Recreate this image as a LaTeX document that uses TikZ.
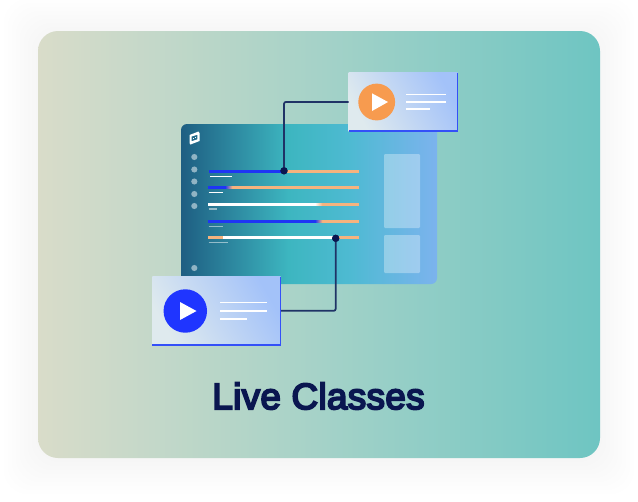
\documentclass[tikz,border=0pt]{standalone}
\usepackage{fontspec}
\setmainfont{Liberation Sans}
\newfontfamily\titlefont[FakeBold=5,LetterSpace=1.0]{Liberation Sans}
\usetikzlibrary{calc}
\definecolor{navy}{HTML}{0A1650}
\definecolor{wire}{HTML}{1F3366}
\definecolor{barblue}{HTML}{1E35F5}
\definecolor{barorange}{HTML}{F5B37E}
\definecolor{edgeblue}{HTML}{3450F8}
\definecolor{playorange}{HTML}{F79B4F}
\definecolor{playblue}{HTML}{1F35FF}
\definecolor{cardpale}{HTML}{DFEAEE}
\definecolor{cardblue}{HTML}{A3C2F9}
\definecolor{bga}{HTML}{D9DCC9}
\definecolor{bgb}{HTML}{A5D2C8}
\definecolor{bgc}{HTML}{6EC5C2}
\definecolor{pa}{HTML}{1E5E82}
\definecolor{pb}{HTML}{3DB6C0}
\definecolor{pc}{HTML}{4EBAD2}
\definecolor{pd}{HTML}{7CB3EE}
\pgfdeclarehorizontalshading{bgsh}{100bp}{
 color(0bp)=(bga);
 color(25bp)=(bga);
 color(50bp)=(bgb);
 color(75bp)=(bgc);
 color(100bp)=(bgc)}
\pgfdeclarehorizontalshading{panelsh}{100bp}{
 color(0bp)=(pa);
 color(25bp)=(pa);
 color(46bp)=(pb);
 color(58bp)=(pc);
 color(75bp)=(pd);
 color(100bp)=(pd)}
\newcommand{\blendbar}[4]{% x start, y, from colour, to colour : 8 px blend
  \foreach \k in {0,...,7}{
    \pgfmathtruncatemacro{\p}{100-\k*14}
    \draw[bar,color=#3!\p!#4] ({#1+\k},#2) -- ({#1+\k+1.1},#2);
  }}
\tikzset{
 x=0.75pt,y=-0.75pt,
 bgcard/.style={rounded corners=15pt,shade,shading=bgsh},
 panelbox/.style={rounded corners=4.5pt,shade,shading=panelsh},
 sidebox/.style={fill=white,fill opacity=.32,rounded corners=.8pt},
 navdot/.style={circle,fill=white,fill opacity=.5,minimum size=4.6pt,inner sep=0pt,outer sep=0pt},
 bar/.style={line width=2.25pt},
 sub/.style={line width=.9pt,draw=white},
 subdim/.style={line width=1.1pt,draw=white,draw opacity=.5},
 inner line/.style={draw=white,line width=1.1pt},
 cardA/.style={rectangle,inner sep=0pt,outer sep=0pt,minimum width=81.9pt,minimum height=43.8pt,anchor=north west,
   bottom color=cardpale,top color=cardblue,shading angle=-60},
 cardB/.style={rectangle,inner sep=0pt,outer sep=0pt,minimum width=96.3pt,minimum height=51.2pt,anchor=north west,
   bottom color=cardpale,top color=cardblue,shading angle=-60},
 cardedge/.style={draw=edgeblue,line width=1pt},
 wirepath/.style={draw=wire,line width=1.3pt,rounded corners=1.5pt},
 junction/.style={circle,fill=navy,minimum size=5.4pt,inner sep=0pt,outer sep=0pt},
 playA/.style={circle,fill=playorange,minimum size=27.6pt,inner sep=0pt,outer sep=0pt},
 playB/.style={circle,fill=playblue,minimum size=32.6pt,inner sep=0pt,outer sep=0pt},
 title/.style={text=navy,font=\fontsize{27.6pt}{30pt}\selectfont\titlefont,inner sep=0pt}
}
\begin{document}
\begin{tikzpicture}
\useasboundingbox (0,0) rectangle (638,501);
\fill[white] (0,0) rectangle (638,501);
% soft shadow
\foreach \e in {2,6,...,34}{
  \fill[color=black!40!blue!30!white,opacity=.007,rounded corners=18pt] (38-\e,33-\e) rectangle (600+\e,460+\e);
}
\path[bgcard] (38,31) rectangle (600,458);
% panel
\path[panelbox] (181,124) rectangle (437,284);
\fill[sidebox] (384,154) rectangle (420,228);
\fill[sidebox] (384,235) rectangle (420,273);
% logo
\begin{scope}[shift={(194.5,138)}]
\fill[white,even odd rule] (-5,-3)--(4,-6.5)--(5,-5)--(5,3)--(-4,6.5)--(-5,5)--cycle
  (-2.8,-1.6)--(-2.8,3.2)--(2.8,1.4)--(2.8,-3.2)--cycle;
\fill[white] (-1.1,-.5) rectangle (-.3,.6);
\fill[white] (.4,-1) rectangle (1.2,.1);
\end{scope}
% nav dots
\foreach \n/\y in {a/157,b/169.5,c/181.5,d/194,e/206,f/268}{
  \node[navdot] (nav\n) at (194.3,\y) {};
}
% bars
\draw[bar,barorange] (284,171.5) -- (359,171.5);
\draw[bar,barblue] (209,171.5) -- (284,171.5);
\draw[sub] (210,176.5) -- (232,176.5);
\draw[bar,barorange] (233,187.5) -- (359,187.5);
\draw[bar,barblue] (208,187.5) -- (226,187.5);
\blendbar{225}{187.5}{barblue}{barorange}
\draw[sub] (208.5,192.3) -- (223,192.3);
\draw[bar,barorange] (323,204.5) -- (359,204.5);
\draw[bar,white] (208,204.5) -- (316,204.5);
\blendbar{315}{204.5}{white}{barorange}
\draw[subdim] (208.5,209) -- (217,209);
\draw[bar,barorange] (323,221.5) -- (359,221.5);
\draw[bar,barblue] (208,221.5) -- (316,221.5);
\blendbar{315}{221.5}{barblue}{barorange}
\draw[subdim] (208.5,226.5) -- (223,226.5);
\draw[bar,barorange] (208,237.5) -- (359,237.5);
\draw[bar,white] (223,237.5) -- (335,237.5);
\draw[subdim] (208.5,242.5) -- (228,242.5);
% junctions and cards
\node[junction] (dotA) at (284,170.8) {};
\node[junction] (dotB) at (335.7,238.3) {};
\node[cardA] (cardA) at (348.5,72.7) {};
\node[cardB] (cardB) at (152.3,276.7) {};
\draw[wirepath] (cardA.west) -| (dotA.center);
\draw[wirepath] (cardB.east) -| (dotB.center);
\node[junction] at (dotA) {};
\node[junction] at (dotB) {};
\draw[cardedge] (cardA.south west) -- (cardA.south east) -- (cardA.north east);
\draw[cardedge] (cardB.south west) -- (cardB.south east) -- (cardB.north east);
% play A
\node[playA] (btnA) at (376.7,102) {};
\fill[white] ($(btnA)+(-4.7,-8.7)$) -- ($(btnA)+(11.3,0)$) -- ($(btnA)+(-4.7,9)$) -- cycle;
\draw[inner line] (406,94.5) -- (446,94.5);
\draw[inner line] (406,102) -- (446,102);
\draw[inner line] (406,109) -- (429.5,109);
% play B
\node[playB] (btnB) at (185.3,311) {};
\fill[white] ($(btnB)+(-5.3,-9)$) -- ($(btnB)+(11.2,0)$) -- ($(btnB)+(-5.3,9)$) -- cycle;
\draw[inner line] (220,302.7) -- (266.5,302.7);
\draw[inner line] (220,311) -- (266.5,311);
\draw[inner line] (220,319) -- (247,319);
% title
\node[title] (caption) at (318.5,396) {Live Classes};
\end{tikzpicture}
\end{document}
